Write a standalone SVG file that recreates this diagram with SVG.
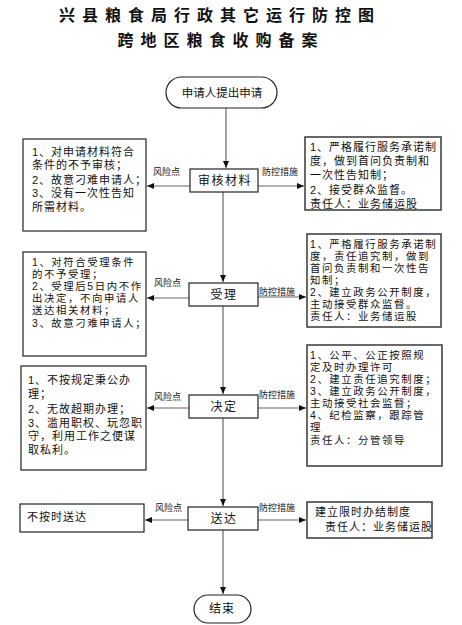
<svg xmlns="http://www.w3.org/2000/svg" width="462" height="625" viewBox="0 0 462 625">
<defs>
<style>
text{font-family:"Liberation Sans","Noto Sans CJK SC",sans-serif;fill:#111}
.title{font-family:"Noto Sans CJK SC",sans-serif;font-size:16px;font-weight:bold;letter-spacing:7px;text-anchor:middle}
.box{fill:#fff;stroke:#222;stroke-width:1.2}
.rbox{fill:#fff;stroke:#444;stroke-width:1.6}
.step{font-size:12px;letter-spacing:1.5px;text-anchor:middle}
.t{font-size:11px;letter-spacing:1px}
.t2{font-size:10.4px;letter-spacing:1.6px}
.lab{font-size:9px}
.con{stroke:#666;stroke-width:1.2;fill:none}
</style>
<marker id="ah" markerWidth="8" markerHeight="8" refX="7" refY="4" orient="auto" markerUnits="userSpaceOnUse">
<path d="M0,1 L7,4 L0,7 Z" fill="#111"/>
</marker>
</defs>
<rect width="462" height="625" fill="#fff"/>
<g id="title">
<text class="title" x="220" y="21">兴县粮食局行政其它运行防控图</text>
<text class="title" x="221" y="46">跨地区粮食收购备案</text>
</g>
<g id="connectors">
<line class="con" x1="226" y1="108" x2="226" y2="168" marker-end="url(#ah)"/>
<line class="con" x1="223" y1="192" x2="223" y2="282" marker-end="url(#ah)"/>
<line class="con" x1="223" y1="306" x2="223" y2="394" marker-end="url(#ah)"/>
<line class="con" x1="223" y1="418" x2="223" y2="506" marker-end="url(#ah)"/>
<line class="con" x1="223" y1="530" x2="223" y2="594" marker-end="url(#ah)"/>
<line class="con" x1="190" y1="186" x2="147" y2="186" marker-end="url(#ah)"/>
<line class="con" x1="258" y1="186" x2="304" y2="186" marker-end="url(#ah)"/>
<line class="con" x1="189" y1="298" x2="147" y2="298" marker-end="url(#ah)"/>
<line class="con" x1="258" y1="297" x2="306" y2="297" marker-end="url(#ah)"/>
<line class="con" x1="189" y1="408" x2="147" y2="408" marker-end="url(#ah)"/>
<line class="con" x1="258" y1="408" x2="306" y2="408" marker-end="url(#ah)"/>
<line class="con" x1="188" y1="520" x2="145" y2="520" marker-end="url(#ah)"/>
<line class="con" x1="258" y1="520" x2="306" y2="520" marker-end="url(#ah)"/>
<text class="lab" x="153" y="175">风险点</text>
<text class="lab" x="262" y="175">防控措施</text>
<text class="lab" x="154" y="286">风险点</text>
<text class="lab" x="259" y="295">防控措施</text>
<text class="lab" x="154" y="400">风险点</text>
<text class="lab" x="259" y="398">防控措施</text>
<text class="lab" x="155" y="511">风险点</text>
<text class="lab" x="259" y="511">防控措施</text>
</g>
<g id="start">
<rect x="166" y="77" width="111" height="31" rx="15.5" class="box"/>
<text x="222" y="97" text-anchor="middle" style="font-size:11.5px">申请人提出申请</text>
</g>
<g id="step1">
<rect x="190" y="169" width="68" height="23" class="box"/>
<text class="step" x="225" y="185">审核材料</text>
</g>
<g id="risk1">
<rect x="23" y="139" width="123" height="92" class="box"/>
<text class="t" x="32"><tspan x="32" y="156">1、对申请材料符合</tspan><tspan x="32" y="169">条件的不予审核；</tspan><tspan x="32" y="184">2、故意刁难申请人；</tspan><tspan x="32" y="197">3、没有一次性告知</tspan><tspan x="32" y="211">所需材料。</tspan></text>
</g>
<g id="measure1">
<rect x="305" y="137" width="136" height="73" class="rbox"/>
<text class="t" x="310"><tspan x="310" y="151">1、严格履行服务承诺制</tspan><tspan x="310" y="165">度，做到首问负责制和</tspan><tspan x="310" y="179">一次性告知制；</tspan><tspan x="310" y="194">2、接受群众监督。</tspan><tspan x="310" y="208">责任人：业务储运股</tspan></text>
</g>
<g id="step2">
<rect x="189" y="283" width="69" height="23" class="box"/>
<text class="step" x="224" y="299">受理</text>
</g>
<g id="risk2">
<rect x="23" y="252" width="123" height="104" class="box"/>
<text class="t2" x="32"><tspan x="32" y="266">1、对符合受理条件</tspan><tspan x="32" y="278">的不予受理；</tspan><tspan x="32" y="290">2、受理后5日内不作</tspan><tspan x="32" y="302">出决定，不向申请人</tspan><tspan x="32" y="314">送达相关材料；</tspan><tspan x="32" y="327">3、故意刁难申请人；</tspan></text>
</g>
<g id="measure2">
<rect x="307" y="234" width="134" height="93" class="rbox"/>
<text class="t2" x="310"><tspan x="310" y="248">1、严格履行服务承诺制</tspan><tspan x="310" y="260">度，责任追究制，做到</tspan><tspan x="310" y="272">首问负责制和一次性告</tspan><tspan x="310" y="284">知制；</tspan><tspan x="310" y="296">2、建立政务公开制度，</tspan><tspan x="310" y="308">主动接受群众监督。</tspan><tspan x="310" y="320">责任人：业务储运股</tspan></text>
</g>
<g id="step3">
<rect x="189" y="395" width="69" height="23" class="box"/>
<text class="step" x="224" y="411">决定</text>
</g>
<g id="risk3">
<rect x="21" y="366" width="125" height="104" class="box"/>
<text class="t" x="28"><tspan x="28" y="384">1、不按规定秉公办</tspan><tspan x="28" y="398">理；</tspan><tspan x="28" y="413">2、无故超期办理；</tspan><tspan x="28" y="427">3、滥用职权、玩忽职</tspan><tspan x="28" y="440">守，利用工作之便谋</tspan><tspan x="28" y="454">取私利。</tspan></text>
</g>
<g id="measure3">
<rect x="307" y="345" width="135" height="121" class="rbox"/>
<text class="t2" x="310"><tspan x="310" y="359">1、公平、公正按照规</tspan><tspan x="310" y="371">定及时办理许可</tspan><tspan x="310" y="383">2、建立责任追究制度；</tspan><tspan x="310" y="395">3、建立政务公开制度，</tspan><tspan x="310" y="407">主动接受社会监督；</tspan><tspan x="310" y="419">4、纪检监察，跟踪管</tspan><tspan x="310" y="431">理</tspan><tspan x="310" y="444">责任人：分管领导</tspan></text>
</g>
<g id="step4">
<rect x="188" y="507" width="70" height="23" class="box"/>
<text class="step" x="224" y="523">送达</text>
</g>
<g id="risk4">
<rect x="20" y="504" width="124" height="28" class="box"/>
<text class="t" x="27" y="521">不按时送达</text>
</g>
<g id="measure4">
<rect x="307" y="502" width="125" height="36" class="rbox"/>
<text class="t" x="315" y="516">建立限时办结制度</text>
<text class="t" x="325" y="531">责任人：业务储运股</text>
</g>
<g id="end">
<rect x="194" y="595" width="57" height="28" rx="14" class="box"/>
<text x="222" y="613" text-anchor="middle" style="font-size:12px;letter-spacing:1px">结束</text>
</g>
</svg>
